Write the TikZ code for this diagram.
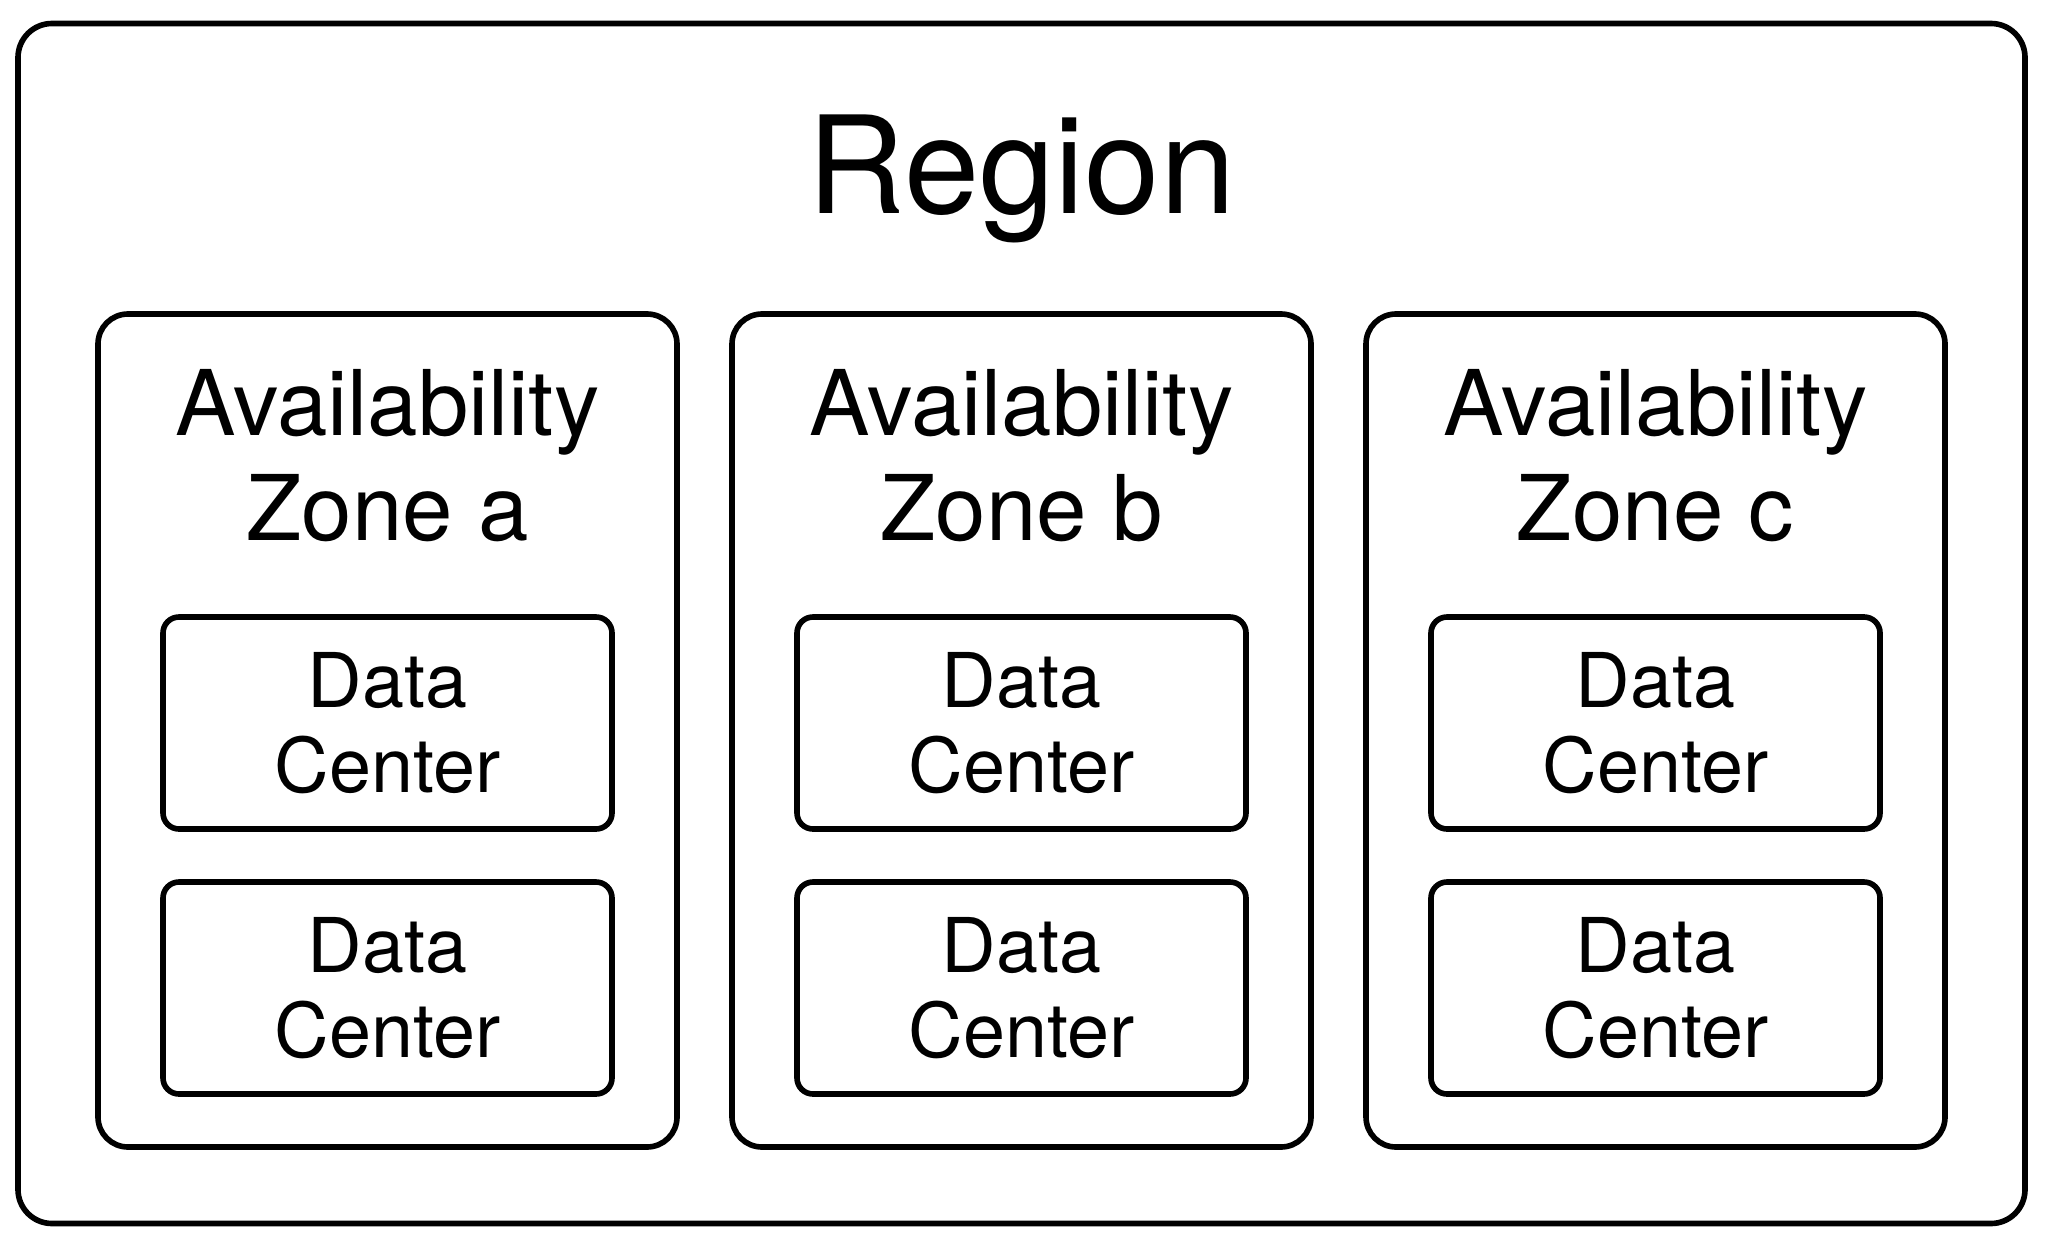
\documentclass[tikz,border=0pt]{standalone}
\usepackage{fontspec}
\setmainfont{TeX Gyre Heros}
\usetikzlibrary{positioning}

\begin{document}
\begin{tikzpicture}
	[
	every node/.style={inner sep=0pt,outer sep=0pt},
	regionbox/.style={rectangle,draw,line width=1.6pt,rounded corners=0.34cm,minimum width=20.07cm,minimum height=12.0cm},
	zonebox/.style={rectangle,draw,line width=1.6pt,rounded corners=0.3cm,minimum width=5.79cm,minimum height=8.33cm},
	dcbox/.style={rectangle,draw,line width=1.6pt,rounded corners=0.16cm,minimum width=4.49cm,minimum height=2.12cm,align=center,font=\fontsize{21.5}{24.2}\selectfont},
	zonetitle/.style={align=center,anchor=north,font=\fontsize{25.8}{29.9}\selectfont},
	]
	\useasboundingbox (0,0) rectangle (20.5,-12.36);
	\node[regionbox,anchor=north west] (region) at (0.18,-0.235) {};
	\node[anchor=base,font=\fontsize{38.5}{46}\selectfont] (rtitle) at ([yshift=-1.9cm]region.north) {Region};
	
	\node[zonebox,anchor=north west] (za) at (0.98,-3.14) {};
	\node[zonebox,right=0.55cm of za] (zb) {};
	\node[zonebox,right=0.55cm of zb] (zc) {};
	
	\node[zonetitle] (tza) at ([yshift=-0.55cm]za.north) {Availability\\Zone a};
	\node[zonetitle] (tzb) at ([yshift=-0.55cm]zb.north) {Availability\\Zone b};
	\node[zonetitle] (tzc) at ([yshift=-0.55cm]zc.north) {Availability\\Zone c};
	
	\node[dcbox,anchor=north] (dca1) at ([yshift=-3.03cm]za.north) {Data\\Center};
	\node[dcbox,below=0.53cm of dca1] (dca2) {Data\\Center};
	\node[dcbox,anchor=north] (dcb1) at ([yshift=-3.03cm]zb.north) {Data\\Center};
	\node[dcbox,below=0.53cm of dcb1] (dcb2) {Data\\Center};
	\node[dcbox,anchor=north] (dcc1) at ([yshift=-3.03cm]zc.north) {Data\\Center};
	\node[dcbox,below=0.53cm of dcc1] (dcc2) {Data\\Center};
\end{tikzpicture}
\end{document}
